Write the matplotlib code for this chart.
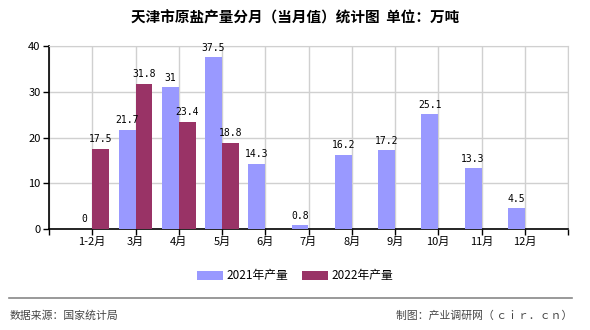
import matplotlib
matplotlib.use('Agg')
import matplotlib.pyplot as plt
import numpy as np

plt.rcParams['font.family'] = ['Noto Sans CJK SC', 'DejaVu Sans']

months = ['1-2月', '3月', '4月', '5月', '6月', '7月', '8月', '9月', '10月', '11月', '12月']
y2021 = [0, 21.7, 31, 37.5, 14.3, 0.8, 16.2, 17.2, 25.1, 13.3, 4.5]
y2022 = [17.5, 31.8, 23.4, 18.8]
yticks = [0, 10, 20, 30, 40]

c2021 = '#9999ff'
c2022 = '#993366'

fig = plt.figure(figsize=(5.9, 3.3), dpi=100)
ax = fig.add_axes([49 / 590, 1 - 229 / 330, 519 / 590, 183 / 330])

x = np.arange(len(months))
w = 0.39
x22 = np.arange(len(y2022))
ax.bar(x - w / 2, y2021, width=w, color=c2021, label='2021年产量', zorder=3)
ax.bar(x22 + w / 2, y2022, width=w, color=c2022, label='2022年产量', zorder=3)

# value labels above bars
for xi, v in zip(x, y2021):
    ax.text(xi - w / 2, v + 1.0, f'{v:g}', ha='center', va='bottom', fontsize=7,
            family=['DejaVu Sans Mono'])
for xi, v in zip(x22, y2022):
    ax.text(xi + w / 2, v + 1.0, f'{v:g}', ha='center', va='bottom', fontsize=7,
            family=['DejaVu Sans Mono'])

ax.set_xlim(-1, len(months))
ax.set_ylim(0, 40)
ax.set_yticks(yticks)
ax.set_xticks(list(x) + [-1, len(months)])
ax.set_xticklabels(months + ['', ''])
ax.tick_params(axis='both', labelsize=8, length=4, width=1, direction='out', pad=2)
ax.grid(True, color='#d0d0d0', linewidth=1, zorder=0)

for s in ['top', 'right']:
    ax.spines[s].set_color('#d0d0d0')
for s in ['left', 'bottom']:
    ax.spines[s].set_color('black')
    ax.spines[s].set_linewidth(1.2)

fig.text(0.5, 1 - 18 / 330, '天津市原盐产量分月（当月值）统计图  单位：万吨', ha='center', va='center',
         fontsize=10.5, fontweight='bold')

fig.legend(loc='center', bbox_to_anchor=(0.5, 1 - 276 / 330), ncol=2, frameon=False,
           fontsize=8.5, handlelength=2.2, handleheight=0.9, columnspacing=1.2, handletextpad=0.3)

fig.add_artist(plt.Line2D([9 / 590, 572 / 590], [1 - 298 / 330, 1 - 298 / 330],
                          color='#888888', linewidth=1.2))
fig.text(10 / 590, 1 - 316 / 330, '数据来源：国家统计局', ha='left', va='center', fontsize=7.8,
         color='#444444')
fig.text(572 / 590, 1 - 316 / 330, '制图：产业调研网（ ｃｉｒ．ｃｎ）', ha='right', va='center', fontsize=7.8,
         color='#444444')

fig.savefig('out.png', dpi=100)
